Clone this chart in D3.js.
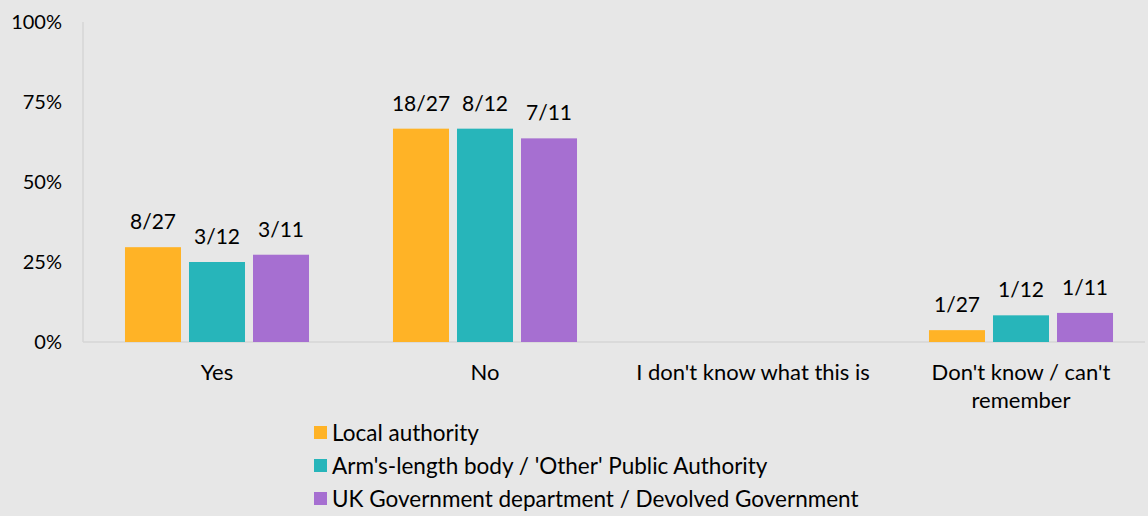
<!DOCTYPE html>
<html>
<head>
<meta charset="utf-8">
<script src="https://cdn.jsdelivr.net/npm/d3@7"></script>
<style>
  body { margin: 0; background: #e7e7e7; }
  text { font-family: "Lato", "Open Sans", sans-serif; fill: #000; }
</style>
</head>
<body>
<div id="chart"></div>
<script>
// data
var categories = ["Yes", "No", "I don't know what this is", "Don't know / can't remember"];
var series = ["Local authority", "Arm's-length body / 'Other' Public Authority", "UK Government department / Devolved Government"];
var colors = ["#ffb326", "#27b5ba", "#a66fd1"];
var localAuthority = [8/27, 18/27, 0, 1/27];
var armsLength = [3/12, 8/12, 0, 1/12];
var ukGov = [3/11, 7/11, 0, 1/11];
var localLabels = ["8/27", "18/27", "", "1/27"];
var armsLabels = ["3/12", "8/12", "", "1/12"];
var ukLabels = ["3/11", "7/11", "", "1/11"];
var yTicks = [0, 0.25, 0.5, 0.75, 1];

var values = [localAuthority, armsLength, ukGov];
var labels = [localLabels, armsLabels, ukLabels];

var width = 1148, height = 516;
var margin = {top: 22, left: 83, right: 3, bottom: 174};

var svg = d3.select("#chart").append("svg")
  .attr("width", width)
  .attr("height", height);

// the plot area runs a little past the right edge of the picture
var x0 = d3.scaleBand()
  .domain(categories)
  .range([margin.left, margin.left + 268 * 4])
  .paddingInner(0)
  .paddingOuter(0);

// bars 56px wide with 8px gaps inside each group
var x1 = d3.scaleBand()
  .domain(d3.range(series.length))
  .range([0, x0.bandwidth()])
  .paddingInner(0.125)
  .paddingOuter(0.656);

var y = d3.scaleLinear()
  .domain([0, 1])
  .range([height - margin.bottom, margin.top]);

// y tick labels
svg.selectAll(".ytick")
  .data(yTicks).enter()
  .append("text")
    .attr("x", 62)
    .attr("y", function(d) { return y(d); })
    .attr("dy", "0.35em")
    .attr("text-anchor", "end")
    .style("font-size", "20px")
    .text(function(d) { return d3.format(".0%")(d); });

// axis lines
svg.append("line")
  .attr("x1", margin.left).attr("x2", margin.left)
  .attr("y1", y(1)).attr("y2", y(0))
  .style("stroke", "#d6d6d6").style("stroke-width", 1.5);
svg.append("line")
  .attr("x1", margin.left).attr("x2", width - margin.right)
  .attr("y1", y(0)).attr("y2", y(0))
  .style("stroke", "#d6d6d6").style("stroke-width", 1.5);

// bars
var groups = svg.selectAll(".cat")
  .data(categories).enter()
  .append("g")
    .attr("transform", function(d) { return "translate(" + x0(d) + ",0)"; });

groups.each(function(cat, ci) {
  var g = d3.select(this);
  series.forEach(function(s, si) {
    var v = values[si][ci];
    if (v > 0) {
      g.append("rect")
        .attr("x", x1(si))
        .attr("width", x1.bandwidth())
        .attr("y", y(v))
        .attr("height", y(0) - y(v))
        .style("fill", colors[si]);
    }
    if (labels[si][ci]) {
      g.append("text")
        .attr("x", x1(si) + x1.bandwidth() / 2)
        .attr("y", y(v) - 18)
        .attr("text-anchor", "middle")
        .style("font-size", "21px")
        .text(labels[si][ci]);
    }
  });
});

// category labels (wrap the last one)
var catLines = [["Yes"], ["No"], ["I don't know what this is"], ["Don't know / can't", "remember"]];
svg.selectAll(".catlabel")
  .data(categories).enter()
  .append("text")
    .attr("x", function(d) { return x0(d) + x0.bandwidth() / 2; })
    .attr("y", y(0) + 38)
    .attr("text-anchor", "middle")
    .style("font-size", "22px")
    .each(function(d, i) {
      var t = d3.select(this);
      catLines[i].forEach(function(line, li) {
        t.append("tspan")
          .attr("x", x0(d) + x0.bandwidth() / 2)
          .attr("dy", li === 0 ? 0 : 28)
          .text(line);
      });
    });

// legend
var legend = svg.selectAll(".legend")
  .data(series).enter()
  .append("g")
    .attr("transform", function(d, i) { return "translate(314," + (433 + i * 33) + ")"; });
legend.append("rect")
  .attr("x", 0).attr("y", -7)
  .attr("width", 13).attr("height", 13)
  .style("fill", function(d, i) { return colors[i]; });
legend.append("text")
  .attr("x", 18)
  .attr("dy", "0.35em")
  .style("font-size", "22.5px")
  .text(function(d) { return d; });
</script>
</body>
</html>
